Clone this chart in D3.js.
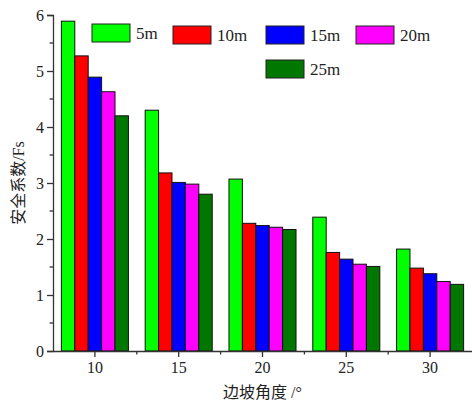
<!DOCTYPE html>
<html>
<head>
<meta charset="utf-8">
<script src="https://cdn.jsdelivr.net/npm/d3@7/dist/d3.min.js"></script>
<style>
  html, body { margin: 0; padding: 0; background: #fff; }
  svg { display: block; }
  text { font-family: "Liberation Serif", "Noto Sans CJK SC", serif; fill: #222; }
</style>
</head>
<body>
<svg id="chart" width="472" height="404"></svg>
<script>
// Slope angle categories (°)
const angles = ["10", "15", "20", "25", "30"];
// Series: slope height
const seriesNames = ["5m", "10m", "15m", "20m", "25m"];
const seriesColors = ["#00ff00", "#ff0000", "#0000ff", "#ff00ff", "#007800"];
// Safety factor Fs for each slope height, per angle
const fs5m  = [5.89, 4.30, 3.07, 2.39, 1.82];
const fs10m = [5.27, 3.18, 2.28, 1.76, 1.48];
const fs15m = [4.89, 3.01, 2.24, 1.64, 1.38];
const fs20m = [4.63, 2.98, 2.21, 1.55, 1.24];
const fs25m = [4.20, 2.80, 2.17, 1.51, 1.19];
const seriesValues = [fs5m, fs10m, fs15m, fs20m, fs25m];
const yTicks = [0, 1, 2, 3, 4, 5, 6];

const svg = d3.select("#chart");
const margin = { left: 53, right: 0, top: 15, bottom: 53 };
const W = 472, H = 404;
const plotW = W - margin.left - margin.right;
const plotH = H - margin.top - margin.bottom;

const g = svg.append("g").attr("transform", `translate(${margin.left},${margin.top})`);

const x0 = d3.scaleBand().domain(angles).range([0, plotW]).paddingInner(0).paddingOuter(0);
const x1 = d3.scaleBand().domain(seriesNames).range([x0.bandwidth() * 0.1, x0.bandwidth() * 0.9]).padding(0);
const y = d3.scaleLinear().domain([0, 6]).range([plotH, 0]);

// Bars
const rows = angles.map((a, i) => ({
  angle: a,
  vals: seriesNames.map((s, j) => ({ s, v: seriesValues[j][i], c: seriesColors[j] }))
}));

g.selectAll("g.grp").data(rows).join("g")
  .attr("class", "grp")
  .attr("transform", d => `translate(${x0(d.angle)},0)`)
  .selectAll("rect").data(d => d.vals).join("rect")
  .attr("x", d => x1(d.s))
  .attr("y", d => y(d.v))
  .attr("width", x1.bandwidth())
  .attr("height", d => plotH - y(d.v))
  .attr("fill", d => d.c)
  .attr("stroke", "#111")
  .attr("stroke-width", 1);

// Y axis: major ticks with labels, minor ticks at halves
const yAxis = g.append("g")
  .call(d3.axisLeft(y).tickValues(yTicks).tickFormat(d3.format("d")).tickSize(6).tickPadding(3));
yAxis.select(".domain").attr("stroke", "#333").attr("stroke-width", 1.3);
yAxis.selectAll(".tick line").attr("stroke", "#333").attr("stroke-width", 1.3);
yAxis.selectAll(".tick text").style("font-size", "16px").attr("fill", "#222");
g.append("g").selectAll("line").data(d3.range(0.5, 6, 1)).join("line")
  .attr("x1", -3.5).attr("x2", 0)
  .attr("y1", d => y(d)).attr("y2", d => y(d))
  .attr("stroke", "#333").attr("stroke-width", 1.3);

// X axis: major ticks at category centres, minor ticks at band boundaries
const xAxis = g.append("g").attr("transform", `translate(0,${plotH})`)
  .call(d3.axisBottom(x0).tickSize(6).tickSizeOuter(0).tickPadding(5));
xAxis.select(".domain").attr("stroke", "#333").attr("stroke-width", 1.3);
xAxis.selectAll(".tick line").attr("stroke", "#333").attr("stroke-width", 1.3);
xAxis.selectAll(".tick text").style("font-size", "16px").attr("fill", "#222");
g.append("g").attr("transform", `translate(0,${plotH})`)
  .selectAll("line").data(angles.slice(1)).join("line")
  .attr("x1", d => x0(d)).attr("x2", d => x0(d))
  .attr("y1", 0).attr("y2", 3.5)
  .attr("stroke", "#333").attr("stroke-width", 1.3);

// Axis titles
svg.append("text")
  .attr("transform", `translate(24,${margin.top + plotH / 2}) rotate(-90)`)
  .attr("text-anchor", "middle")
  .style("font-size", "16px")
  .text("安全系数/Fs");
svg.append("text")
  .attr("x", margin.left + plotW / 2)
  .attr("y", 398)
  .attr("text-anchor", "middle")
  .style("font-size", "16px")
  .text("边坡角度 /°");

// Legend
const legendPos = [
  { x: 92, y: 24 }, { x: 173, y: 26 }, { x: 266, y: 26 }, { x: 356, y: 26 }, { x: 266, y: 60 }
];
const legend = svg.append("g").selectAll("g").data(seriesNames).join("g")
  .attr("transform", (d, i) => `translate(${legendPos[i].x},${legendPos[i].y})`);
legend.append("rect")
  .attr("width", 38).attr("height", 18)
  .attr("fill", (d, i) => seriesColors[i])
  .attr("stroke", "#222").attr("stroke-width", 1);
legend.append("text")
  .attr("x", 44).attr("y", 9).attr("dy", "0.35em")
  .style("font-size", "17px")
  .text(d => d);
</script>
</body>
</html>
